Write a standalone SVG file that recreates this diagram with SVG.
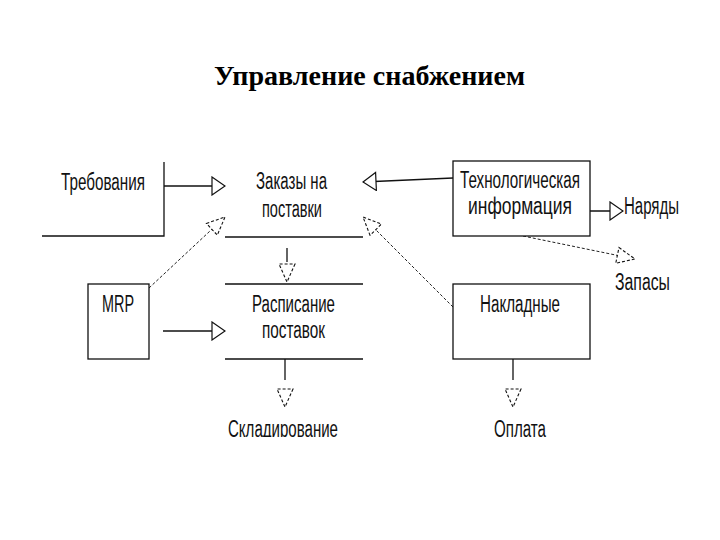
<svg xmlns="http://www.w3.org/2000/svg" width="720" height="540" viewBox="0 0 720 540">
  <style>
    .t { font-family: "Liberation Sans Narrow", "Liberation Sans", Arial, sans-serif; font-size: 23px; fill: #111; }
    .title { font-family: "Liberation Serif", "Times New Roman", serif; font-size: 28px; font-weight: bold; fill: #000; }
    .ln { fill: none; stroke: #111; stroke-width: 1.3; }
    .box { fill: #fff; stroke: #111; stroke-width: 1.3; }
    .dash { fill: none; stroke: #222; stroke-width: 1; stroke-dasharray: 3 2; }
  </style>
  <defs>
    <marker id="tri" markerUnits="userSpaceOnUse" viewBox="0 0 15 20" markerWidth="15" markerHeight="20" refX="14" refY="10" orient="auto">
      <path d="M1,1 L14,10 L1,19 Z" fill="#fff" stroke="#111" stroke-width="1.2"/>
    </marker>
    <marker id="dtri" markerUnits="userSpaceOnUse" viewBox="0 0 20 18" markerWidth="20" markerHeight="18" refX="19" refY="9" orient="auto">
      <path d="M1,1 L19,9 L1,17 Z" fill="#fff" stroke="#111" stroke-width="1.1" stroke-dasharray="3 2"/>
    </marker>
    <clipPath id="bottomClip">
      <rect x="0" y="0" width="720" height="437"/>
    </clipPath>
  </defs>
  <rect x="0" y="0" width="720" height="540" fill="#fff"/>

  <text class="title" x="214" y="85" textLength="311" lengthAdjust="spacingAndGlyphs">Управление снабжением</text>

  <g id="connectors">
    <path class="ln" d="M164,186 H225" marker-end="url(#tri)"/>
    <path class="ln" d="M453,178 L363,182" marker-end="url(#tri)"/>
    <path class="ln" d="M590,211 H623" marker-end="url(#tri)"/>
    <path class="dash" d="M523,236 L635,259" marker-end="url(#dtri)"/>
    <path class="dash" d="M149,288 L225,217" marker-end="url(#dtri)"/>
    <path class="dash" d="M453,307 L363,217" marker-end="url(#dtri)"/>
    <path class="ln" d="M163,331 H225" marker-end="url(#tri)"/>
    <path class="ln" d="M287,248 V282" stroke-dasharray="14 60" marker-end="url(#dtri)"/>
    <path class="ln" d="M285,359 V407" stroke-dasharray="21 60" marker-end="url(#dtri)"/>
    <path class="ln" d="M513,359 V407" stroke-dasharray="21 60" marker-end="url(#dtri)"/>
  </g>

  <g id="node-trebovaniya">
    <path class="ln" d="M42,236 H164 V162"/>
    <text class="t" x="61" y="190" textLength="84" lengthAdjust="spacingAndGlyphs">Требования</text>
  </g>

  <g id="node-zakazy">
    <path class="ln" d="M225,237 H363"/>
    <text class="t" x="256" y="189" textLength="71" lengthAdjust="spacingAndGlyphs">Заказы на</text>
    <text class="t" x="262" y="217" textLength="60" lengthAdjust="spacingAndGlyphs">поставки</text>
  </g>

  <g id="node-tehinfo">
    <rect class="box" x="453" y="161" width="137" height="75"/>
    <text class="t" x="460" y="188" textLength="120" lengthAdjust="spacingAndGlyphs">Технологическая</text>
    <text class="t" x="468" y="214" textLength="104" lengthAdjust="spacingAndGlyphs">информация</text>
  </g>

  <g id="node-naryady">
    <text class="t" x="624" y="214" textLength="55" lengthAdjust="spacingAndGlyphs">Наряды</text>
  </g>

  <g id="node-zapasy">
    <text class="t" x="615" y="290" textLength="55" lengthAdjust="spacingAndGlyphs">Запасы</text>
  </g>

  <g id="node-mrp">
    <rect class="box" x="88" y="284" width="61" height="75"/>
    <text class="t" x="102" y="312" textLength="32" lengthAdjust="spacingAndGlyphs">MRP</text>
  </g>

  <g id="node-raspisanie">
    <path class="ln" d="M225,284 H363 M225,359 H363"/>
    <text class="t" x="252" y="312" textLength="83" lengthAdjust="spacingAndGlyphs">Расписание</text>
    <text class="t" x="262" y="338" textLength="63" lengthAdjust="spacingAndGlyphs">поставок</text>
  </g>

  <g id="node-nakladnye">
    <rect class="box" x="453" y="284" width="137" height="75"/>
    <text class="t" x="480" y="312" textLength="80" lengthAdjust="spacingAndGlyphs">Накладные</text>
  </g>

  <g id="node-skladirovanie" clip-path="url(#bottomClip)">
    <text class="t" x="228" y="437" textLength="110" lengthAdjust="spacingAndGlyphs">Складирование</text>
  </g>

  <g id="node-oplata" clip-path="url(#bottomClip)">
    <text class="t" x="494" y="437" textLength="52" lengthAdjust="spacingAndGlyphs">Оплата</text>
  </g>
</svg>
